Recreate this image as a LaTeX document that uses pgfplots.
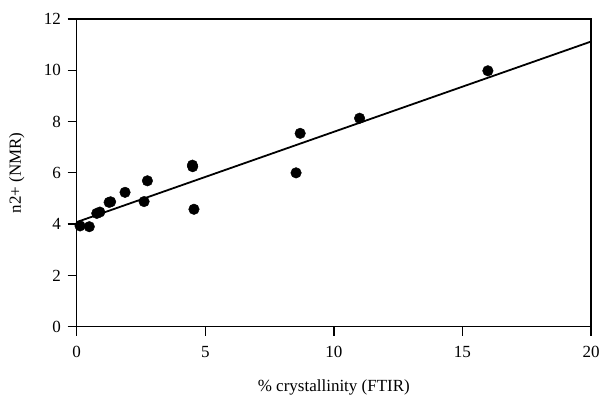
\documentclass[border=0pt]{standalone}
\usepackage{pgfplots}
\pgfplotsset{compat=1.18}
\usepackage{fontspec}
\setmainfont{Liberation Serif}
\begin{document}
\fontsize{17}{20}\selectfont
\begin{tikzpicture}
\begin{axis}[
  name=ax,
  scale only axis,
  width=514.3pt, height=307.7pt,
  xmin=0, xmax=20, ymin=0, ymax=12,
  xtick={0,5,10,15,20},
  ytick={0,2,4,6,8,10,12},
  tick pos=left,
  tick align=outside,
  major tick length=9pt,
  axis line style={line width=1.3pt},
  every tick/.style={line width=1.3pt, black},
  /pgf/number format/assume math mode=true,
  ticklabel style={font=\fontsize{17}{20}\selectfont},
  xticklabel style={yshift=-5pt},
  yticklabel style={xshift=-1pt},
  xlabel={\% crystallinity (FTIR)},
  ylabel={n2+ (NMR)},
  xlabel style={at={(axis description cs:0.5,0)}, anchor=center, yshift=-61pt},
  ylabel style={at={(axis description cs:0,0.5)}, anchor=center, yshift=60pt},
  label style={font=\fontsize{17}{20}\selectfont},
  clip=false,
]
\addplot[black, line width=1.8pt, no marks] coordinates {(0,4.08) (20,11.12)};
\addplot[only marks, mark=*, mark size=5.3pt, black] coordinates {
(0.13,3.93) (0.49,3.90) (0.78,4.42) (0.90,4.47) (1.26,4.85) (1.32,4.87)
(1.88,5.24) (2.62,4.88) (2.75,5.69) (4.51,6.24) (4.50,6.30) (4.56,4.58)
(8.53,6.00) (8.69,7.54) (11.0,8.13) (15.99,9.98)
};
\end{axis}
\pgfresetboundingbox
\path[use as bounding box] (ax.south west) ++(-76.7pt,-74.3pt) rectangle ++(602pt,401pt);
\end{tikzpicture}
\end{document}
